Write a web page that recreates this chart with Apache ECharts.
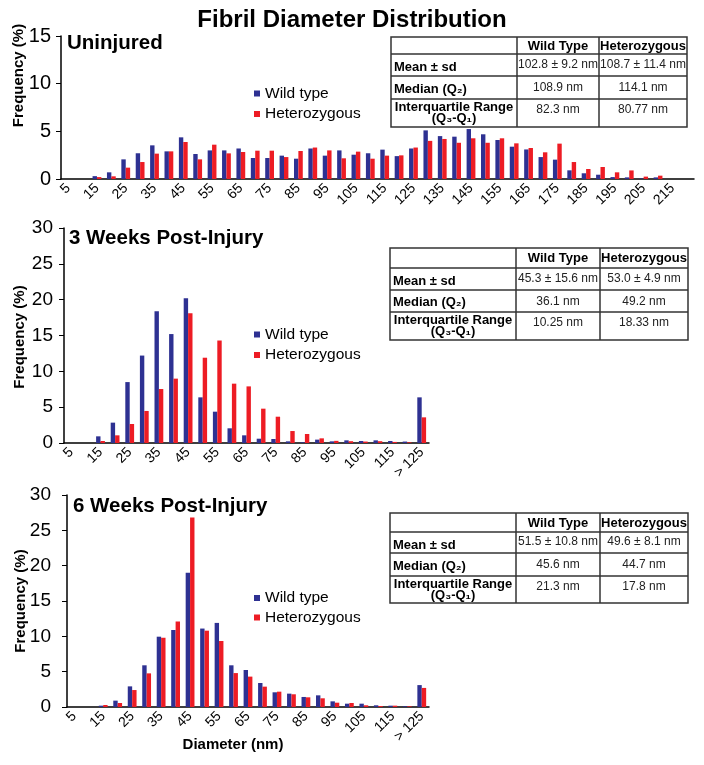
<!DOCTYPE html>
<html><head><meta charset="utf-8">
<script src="https://cdn.jsdelivr.net/npm/echarts@6/dist/echarts.min.js"></script>
<style>html,body{margin:0;padding:0;background:#fff}#c{width:704px;height:765px}</style>
</head><body><div id="c"></div><script>
// ---------- data ----------
const diamUninjured = ['5','10','15','20','25','30','35','40','45','50','55','60','65','70','75','80','85','90','95','100','105','110','115','120','125','130','135','140','145','150','155','160','165','170','175','180','185','190','195','200','205','210','215','220'];
const wtUninjured  = [0,0,0.3,0.7,2.06,2.7,3.53,2.9,4.37,2.62,3.0,3.0,3.2,2.2,2.2,2.45,2.13,3.2,2.45,3.0,2.55,2.7,3.08,2.4,3.2,5.1,4.5,4.44,5.24,4.69,4.09,3.39,3.1,2.3,2.03,0.91,0.6,0.45,0.2,0.17,0.05,0.17,0,0];
const hetUninjured = [0,0,0.2,0.28,1.19,1.78,2.66,2.9,3.88,2.06,3.6,2.69,2.83,2.97,2.97,2.3,2.94,3.3,3.0,2.17,2.87,2.13,2.45,2.48,3.3,4.0,4.2,3.8,4.27,3.8,4.27,3.74,3.25,2.8,3.71,1.78,1.05,1.26,0.7,0.9,0.25,0.35,0,0];

const diamPost = ['5','10','15','20','25','30','35','40','45','50','55','60','65','70','75','80','85','90','95','100','105','110','115','120','> 125'];
const wt3wk  = [0,0,0.93,2.84,8.5,12.2,18.4,15.2,20.2,6.37,4.37,2.05,1.07,0.6,0.56,0.23,0.1,0.47,0.23,0.37,0.28,0.37,0.28,0.2,6.37];
const het3wk = [0,0,0.28,1.07,2.65,4.47,7.53,8.98,18.1,11.9,14.3,8.28,7.9,4.79,3.67,1.67,1.26,0.65,0.3,0.25,0.2,0.25,0.15,0.1,3.58];
const wt6wk  = [0,0,0.19,0.9,2.92,5.9,9.95,10.9,19.0,11.1,11.9,5.9,5.24,3.4,2.08,1.89,1.42,1.65,0.8,0.47,0.47,0.24,0.19,0.1,3.1];
const het6wk = [0,0,0.28,0.57,2.4,4.76,9.8,12.1,26.8,10.8,9.34,4.8,4.3,2.88,2.17,1.8,1.37,1.23,0.61,0.57,0.24,0.14,0.19,0.1,2.7];

const seriesNames = ['Wild type','Heterozygous'];
const panelTitles = ['Uninjured','3 Weeks Post-Injury','6 Weeks Post-Injury'];
const yMax = [15,30,30];
const tableHeader = ['Wild Type','Heterozygous'];
const rowLabels = ['Mean ± sd','Median (Q\u2082)','Interquartile Range','(Q\u2083-Q\u2081)'];
const tableUninjured = [['102.8 ± 9.2 nm','108.7 ± 11.4 nm'],['108.9 nm','114.1 nm'],['82.3 nm','80.77 nm']];
const table3wk = [['45.3 ± 15.6 nm','53.0 ± 4.9 nm'],['36.1 nm','49.2 nm'],['10.25 nm','18.33 nm']];
const table6wk = [['51.5 ± 10.8 nm','49.6 ± 8.1 nm'],['45.6 nm','44.7 nm'],['21.3 nm','17.8 nm']];

// ---------- styling / layout ----------
const FF = '"Liberation Sans", Arial, Helvetica, sans-serif';
const BLUE = '#2E3192', RED = '#ED1C24';
const grids = [
  {left:61, top:36, width:633, height:143},
  {left:64, top:228, width:365, height:215},
  {left:67, top:495, width:362, height:212}
];
const yLabelSize = [20,19,19];
const yLabelMargin = [10,11,16];
const cats = [diamUninjured, diamPost, diamPost];
const seriesData = [[wtUninjured,hetUninjured],[wt3wk,het3wk],[wt6wk,het6wk]];

const xAxes = cats.map((c,i)=>({
  type:'category', gridIndex:i, data:c,
  axisLine:{lineStyle:{color:'#000',width:1.5}},
  axisTick:{interval:0,length:4,lineStyle:{color:'#000',width:1}},
  axisLabel:{interval:1,rotate:45,fontSize:14,color:'#000',margin:7,fontFamily:FF}
}));
const yAxes = yMax.map((m,i)=>({
  type:'value', gridIndex:i, min:0, max:m, interval:5,
  axisLine:{show:true,lineStyle:{color:'#000',width:1.5}},
  axisTick:{show:true,length:5,lineStyle:{color:'#000',width:1}},
  splitLine:{show:false},
  axisLabel:{fontSize:yLabelSize[i],color:'#000',margin:yLabelMargin[i],fontFamily:FF}
}));
const series = [];
seriesData.forEach((pair,i)=>{
  pair.forEach((d,k)=>{
    series.push({type:'bar',name:seriesNames[k],xAxisIndex:i,yAxisIndex:i,data:d,
      barWidth:4.4,barGap:'0%',itemStyle:{color:k?RED:BLUE},silent:true});
  });
});
const legendTops = [85.5,326.5,590];
const legendGaps = [4.5,4.5,3.5];
const legends = legendTops.map((t,i)=>({
  left:254, top:t, orient:'vertical', padding:0, itemWidth:6, itemHeight:6, itemGap:legendGaps[i],
  icon:'rect', data:seriesNames, selectedMode:false,
  textStyle:{fontSize:15.5,color:'#000',fontFamily:FF}
}));

// ---------- graphic texts & tables ----------
const g = [];
function txt(text,x,y,font,align,fill,rotation){
  const el = {type:'text',x:x,y:y,silent:true,style:{text:text,font:font,fill:fill||'#000',
    textAlign:align,align:align,textVerticalAlign:'middle',verticalAlign:'middle'}};
  if(rotation) el.rotation = rotation;
  g.push(el);
}
txt('Fibril Diameter Distribution',352,20,'bold 24px '+FF,'center');
const titlePos = [[67,43],[69,238],[73,506]];
panelTitles.forEach((t,i)=>txt(t,titlePos[i][0],titlePos[i][1],'bold 20.5px '+FF,'left'));
const yNamePos = [[18.5,75.5],[19.5,337],[21,601]];
yNamePos.forEach(p=>txt('Frequency (%)',p[0],p[1],'bold 15px '+FF,'center',null,Math.PI/2));
txt('Diameter (nm)',233,745,'bold 15px '+FF,'center');

function table(cols,rows,vals){
  const ls = {stroke:'#333',lineWidth:1.5};
  g.push({type:'rect',silent:true,shape:{x:cols[0],y:rows[0],width:cols[3]-cols[0],height:rows[4]-rows[0]},style:{fill:'none',stroke:'#333',lineWidth:1.5}});
  for(let r=1;r<4;r++) g.push({type:'line',silent:true,shape:{x1:cols[0],y1:rows[r],x2:cols[3],y2:rows[r]},style:ls});
  for(let c=1;c<3;c++) g.push({type:'line',silent:true,shape:{x1:cols[c],y1:rows[0],x2:cols[c],y2:rows[4]},style:ls});
  const cc = [(cols[0]+cols[1])/2,(cols[1]+cols[2])/2,(cols[2]+cols[3])/2];
  const hb = 'bold 13px '+FF, vn = '12px '+FF;
  txt(tableHeader[0],cc[1],(rows[0]+rows[1])/2+0.5,hb,'center');
  txt(tableHeader[1],cc[2],(rows[0]+rows[1])/2+0.5,hb,'center');
  txt(rowLabels[0],cols[0]+3,(rows[1]+rows[2])/2+2.5,hb,'left');
  txt(rowLabels[1],cols[0]+3,(rows[2]+rows[3])/2+1.5,hb,'left');
  txt(rowLabels[2],cc[0],rows[3]+8.5,hb,'center');
  txt(rowLabels[3],cc[0],rows[3]+19.5,hb,'center');
  const vy = [(rows[1]+rows[2])/2-0.5,(rows[2]+rows[3])/2+0.5,rows[3]+11];
  vals.forEach((row,r)=>{
    txt(row[0],cc[1],vy[r],vn,'center','#222');
    txt(row[1],cc[2],vy[r],vn,'center','#222');
  });
}
table([391,517,599,687],[37,54,76,99,127],tableUninjured);
table([390,516,600,688],[248,268,290,312,340],table3wk);
table([390,516,600,688],[513,532,553,576,603],table6wk);

const chart = echarts.init(document.getElementById('c'),null,{renderer:'canvas'});
chart.setOption({
  animation:false,
  backgroundColor:'#fff',
  textStyle:{fontFamily:FF},
  grid:grids, xAxis:xAxes, yAxis:yAxes, legend:legends, series:series, graphic:g
});
</script></body></html>
